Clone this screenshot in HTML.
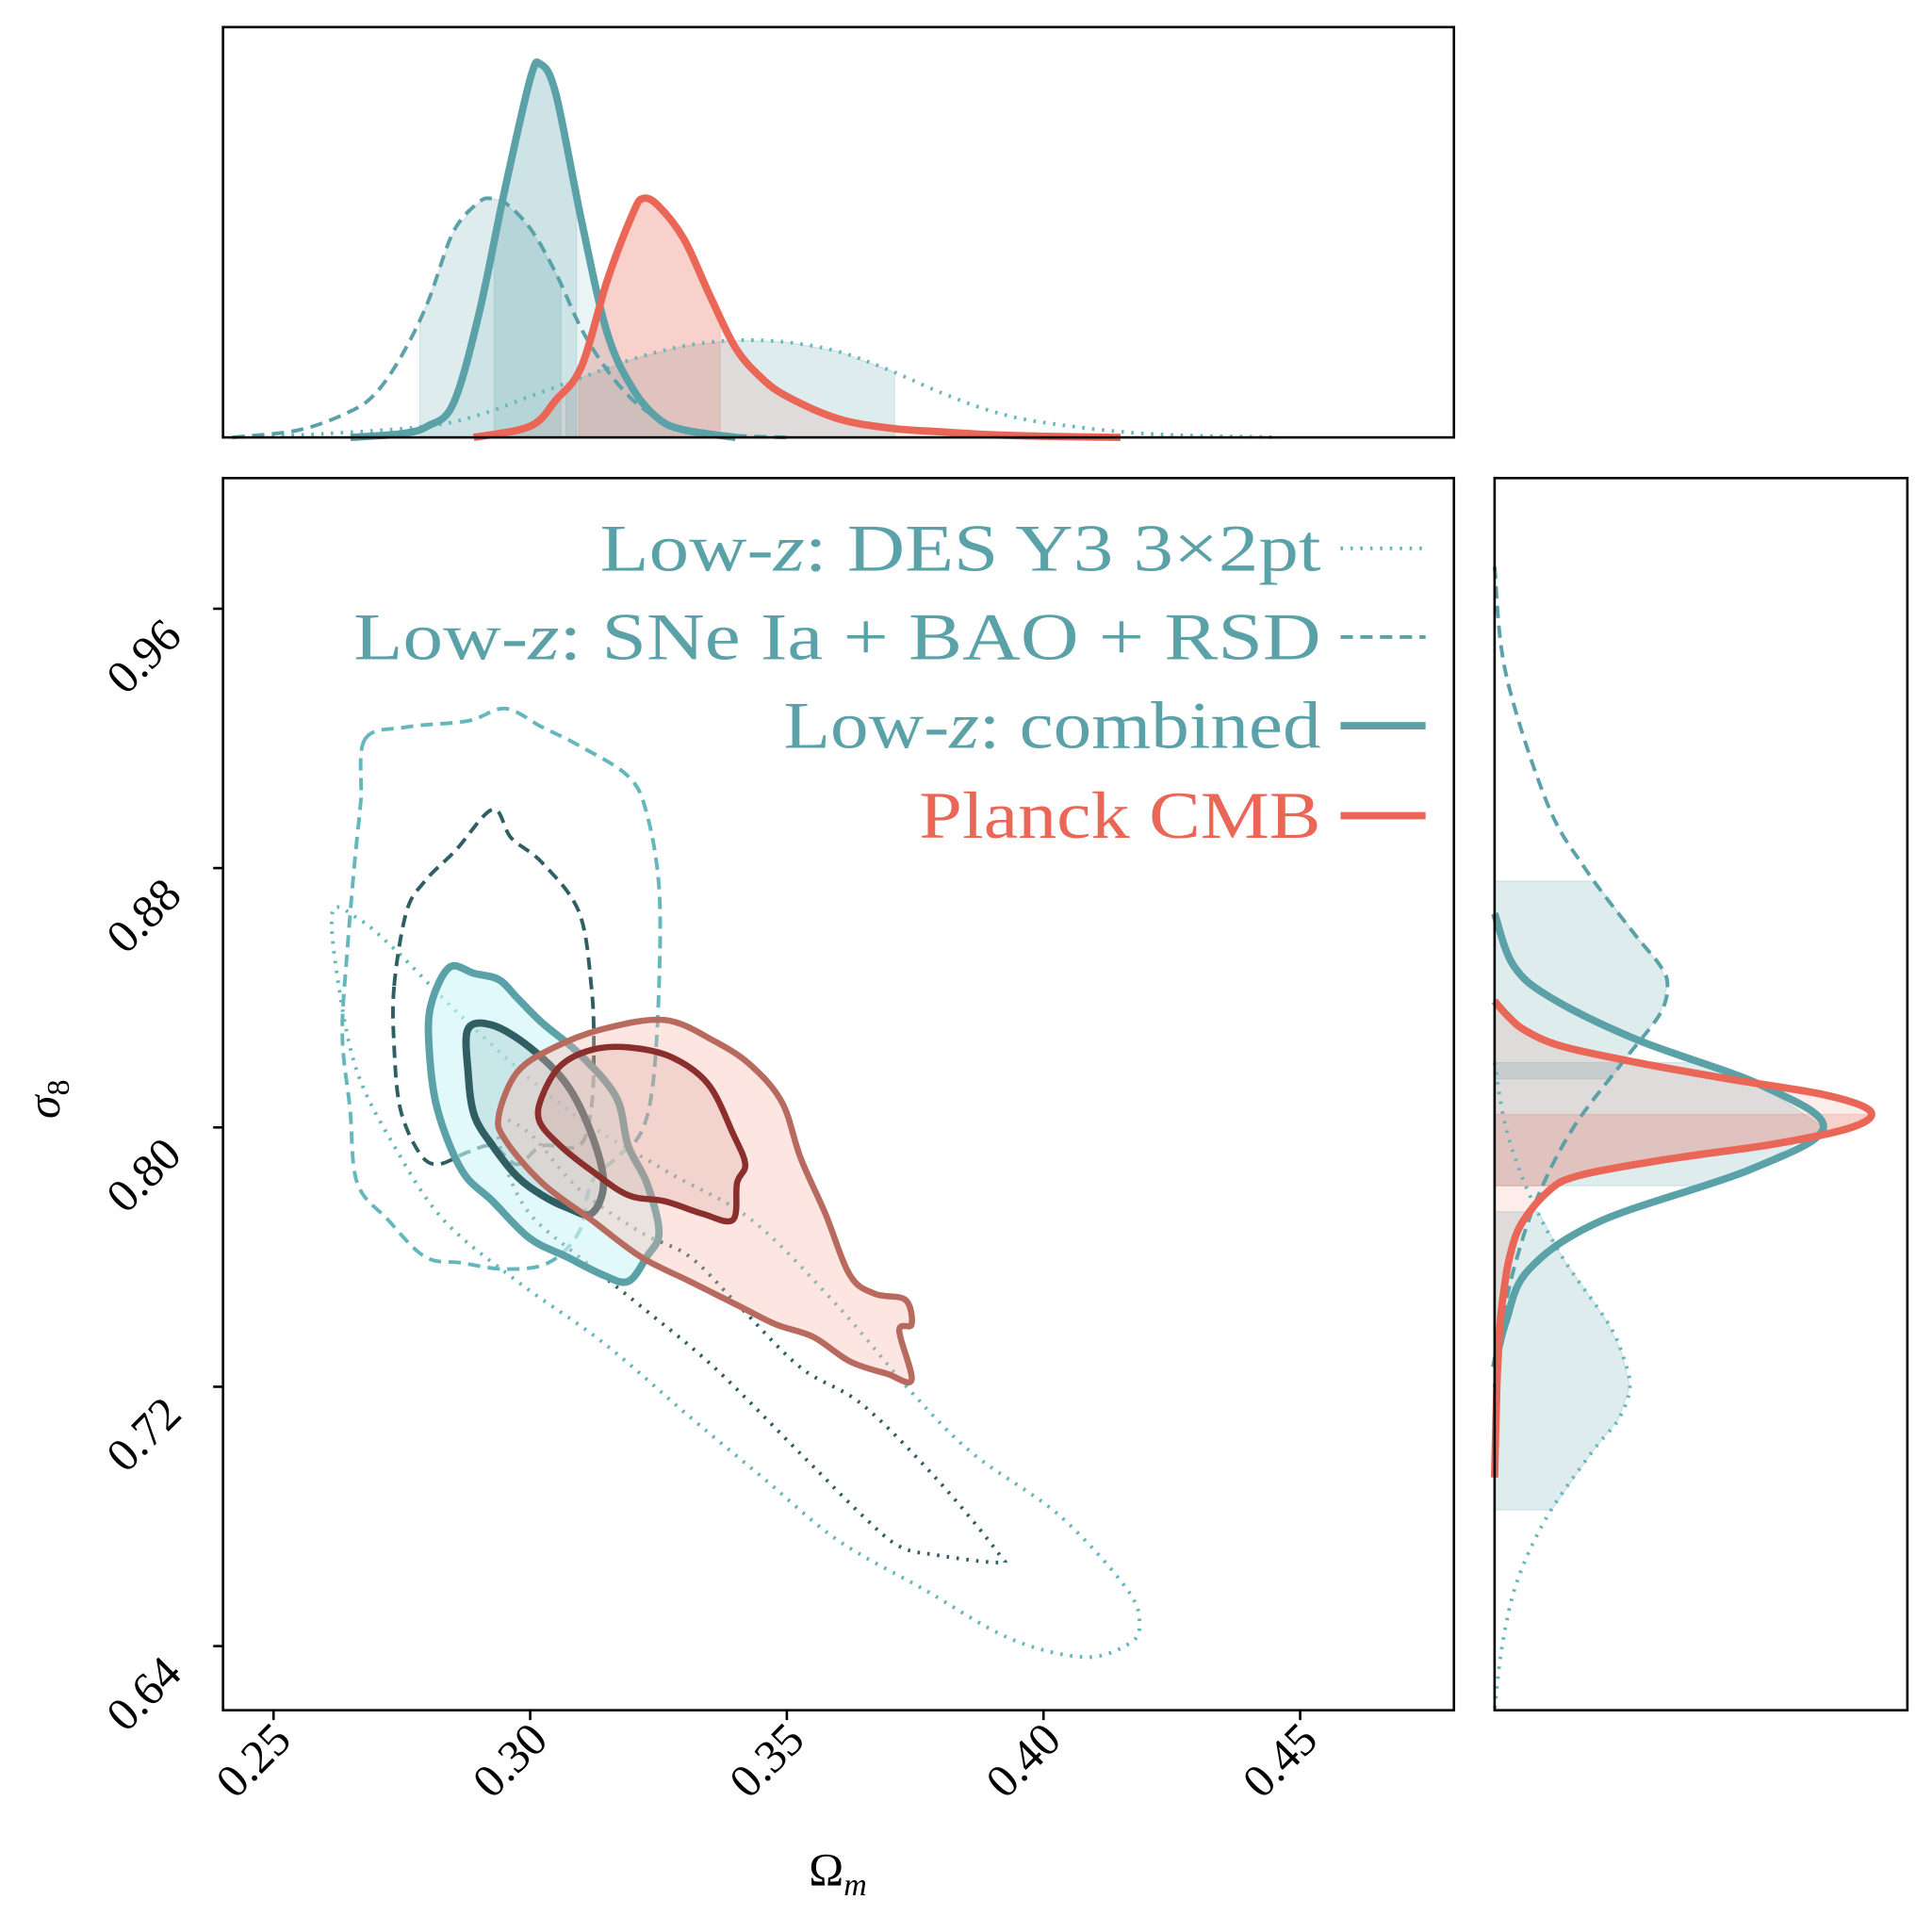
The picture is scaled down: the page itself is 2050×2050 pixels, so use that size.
<!DOCTYPE html>
<html><head><meta charset="utf-8"><style>
html,body{margin:0;padding:0;background:#fff}
svg{display:block}
text{font-family:"Liberation Serif",serif}
</style></head><body>
<svg id="c" width="2050" height="2050" viewBox="0 0 1568 1568" xmlns="http://www.w3.org/2000/svg"></svg>
<script>
// ---- data ----
const xTicks=[0.25,0.30,0.35,0.40,0.45];
const yTicks=[0.96,0.88,0.80,0.72,0.64];
const xTickLabels=["0.25","0.30","0.35","0.40","0.45"];
const yTickLabels=["0.96","0.88","0.80","0.72","0.64"];
// top marginal (Omega_m, relative density)
const omCombined=[[0.265,0],[0.275,0.01],[0.28,0.03],[0.285,0.09],[0.29,0.33],[0.295,0.66],[0.30,0.96],[0.302,1.0],[0.305,0.92],[0.31,0.58],[0.315,0.28],[0.32,0.13],[0.325,0.05],[0.33,0.02],[0.34,0]];
const omPlanck=[[0.289,0],[0.30,0.03],[0.305,0.10],[0.31,0.19],[0.315,0.42],[0.32,0.60],[0.322,0.64],[0.325,0.62],[0.33,0.53],[0.335,0.38],[0.34,0.24],[0.345,0.16],[0.35,0.11],[0.36,0.05],[0.37,0.025],[0.38,0.015],[0.39,0.007],[0.40,0.003],[0.415,0]];
const omSNe=[[0.242,0],[0.255,0.02],[0.265,0.07],[0.27,0.12],[0.275,0.22],[0.28,0.36],[0.285,0.55],[0.29,0.63],[0.2925,0.64],[0.295,0.63],[0.30,0.56],[0.305,0.44],[0.31,0.29],[0.315,0.18],[0.32,0.10],[0.325,0.05],[0.33,0.02],[0.34,0.005],[0.35,0]];
const omDES=[[0.242,0],[0.26,0.01],[0.28,0.03],[0.29,0.06],[0.30,0.11],[0.31,0.16],[0.32,0.21],[0.33,0.245],[0.34,0.26],[0.35,0.255],[0.36,0.23],[0.37,0.18],[0.38,0.12],[0.39,0.07],[0.40,0.04],[0.42,0.01],[0.446,0]];
const omIntervals={combined:[0.293,0.309],sne:[0.2785,0.306],des:[0.307,0.371],planck:[0.3095,0.337]};
// right marginal (sigma8, relative density)
const s8Planck=[[0.839,0],[0.835,0.03],[0.83,0.08],[0.825,0.18],[0.82,0.38],[0.815,0.62],[0.81,0.88],[0.805,1.0],[0.80,0.95],[0.795,0.75],[0.79,0.45],[0.785,0.22],[0.78,0.14],[0.77,0.07],[0.76,0.04],[0.75,0.025],[0.74,0.015],[0.73,0.01],[0.72,0.006],[0.692,0]];
const s8Combined=[[0.866,0],[0.85,0.05],[0.84,0.15],[0.827,0.38],[0.813,0.71],[0.80,0.875],[0.787,0.68],[0.771,0.28],[0.756,0.09],[0.74,0.03],[0.726,0]];
const s8SNe=[[0.973,0],[0.94,0.03],[0.90,0.14],[0.88,0.24],[0.86,0.37],[0.85,0.44],[0.844,0.46],[0.835,0.44],[0.82,0.34],[0.80,0.21],[0.78,0.12],[0.76,0.06],[0.74,0.02],[0.72,0]];
const s8DES=[[0.82,0],[0.80,0.03],[0.78,0.09],[0.76,0.18],[0.74,0.30],[0.73,0.34],[0.72,0.36],[0.71,0.33],[0.70,0.26],[0.68,0.14],[0.66,0.06],[0.64,0.02],[0.62,0]];
const s8Intervals={sne:[0.815,0.876],des:[0.682,0.774],combined:[0.782,0.82],planck:[0.782,0.804]};
// 2D contours (Omega_m, sigma8)
const desOuter=[[0.2615,0.8665],[0.2627,0.8437],[0.2663,0.8171],[0.2735,0.7943],[0.2831,0.7715],[0.2975,0.7525],[0.3143,0.7335],[0.3311,0.7107],[0.3455,0.6917],[0.3599,0.6727],[0.3767,0.6575],[0.3935,0.6423],[0.4079,0.6366],[0.4163,0.6404],[0.4187,0.6461],[0.4163,0.6575],[0.4031,0.6803],[0.3863,0.6993],[0.3743,0.7183],[0.3599,0.7449],[0.3431,0.7715],[0.3263,0.7867],[0.3071,0.8057],[0.2879,0.8323],[0.2735,0.8551],[0.2663,0.8646]];
const desInner=[[0.2939,0.8019],[0.2999,0.7981],[0.3095,0.7810],[0.3215,0.7677],[0.3311,0.7601],[0.3407,0.7449],[0.3527,0.7259],[0.3647,0.7145],[0.3791,0.6917],[0.3911,0.6689],[0.3911,0.6658],[0.3791,0.6681],[0.3719,0.6708],[0.3647,0.6803],[0.3527,0.6993],[0.3359,0.7259],[0.3215,0.7449],[0.3095,0.7601],[0.2999,0.7734],[0.2951,0.7886]];
const sneOuter=[[0.2678,0.9197],[0.2759,0.9235],[0.2879,0.9254],[0.2951,0.9292],[0.3023,0.9235],[0.3095,0.9178],[0.3191,0.9083],[0.3227,0.8969],[0.3251,0.8741],[0.3251,0.8437],[0.3239,0.8133],[0.3215,0.7981],[0.3167,0.7905],[0.3119,0.7829],[0.3095,0.7677],[0.3035,0.7582],[0.2951,0.7563],[0.2867,0.7582],[0.2795,0.7601],[0.2723,0.7715],[0.2663,0.7829],[0.2649,0.8057],[0.2634,0.8285],[0.2644,0.8551],[0.2658,0.8817],[0.2670,0.9007]];
const sneInner=[[0.2735,0.8437],[0.2759,0.8665],[0.2795,0.8760],[0.2855,0.8855],[0.2927,0.8981],[0.2963,0.8893],[0.3023,0.8817],[0.3095,0.8665],[0.3119,0.8437],[0.3124,0.8247],[0.3119,0.8057],[0.3095,0.7943],[0.3023,0.7943],[0.2975,0.7886],[0.2927,0.7943],[0.2879,0.7924],[0.2819,0.7886],[0.2783,0.7924],[0.2747,0.8057],[0.2735,0.8247]];
const combOuter=[[0.2807,0.8380],[0.2843,0.8494],[0.2891,0.8475],[0.2939,0.8456],[0.2975,0.8399],[0.3023,0.8323],[0.3095,0.8228],[0.3167,0.8095],[0.3191,0.7943],[0.3227,0.7829],[0.3251,0.7677],[0.3227,0.7601],[0.3191,0.7525],[0.3143,0.7544],[0.3071,0.7601],[0.2999,0.7658],[0.2927,0.7772],[0.2867,0.7867],[0.2819,0.8057],[0.2803,0.8247]];
const combInner=[[0.2879,0.8304],[0.2927,0.8315],[0.2999,0.8247],[0.3071,0.8133],[0.3119,0.7981],[0.3143,0.7829],[0.3119,0.7734],[0.3071,0.7753],[0.3023,0.7791],[0.2975,0.7848],[0.2927,0.7943],[0.2891,0.8038],[0.2879,0.8171]];
const planckOuter=[[0.2939,0.8038],[0.2975,0.8171],[0.3047,0.8247],[0.3143,0.8304],[0.3263,0.8331],[0.3359,0.8266],[0.3431,0.8190],[0.3491,0.8076],[0.3527,0.7905],[0.3575,0.7734],[0.3623,0.7544],[0.3671,0.7487],[0.3731,0.7468],[0.3743,0.7392],[0.3719,0.7373],[0.3743,0.7221],[0.3695,0.7240],[0.3623,0.7278],[0.3551,0.7354],[0.3479,0.7392],[0.3407,0.7449],[0.3311,0.7525],[0.3215,0.7601],[0.3119,0.7715],[0.3023,0.7829],[0.2951,0.7962]];
const planckInner=[[0.3023,0.8095],[0.3059,0.8190],[0.3119,0.8239],[0.3191,0.8247],[0.3275,0.8217],[0.3347,0.8133],[0.3395,0.7981],[0.3419,0.7886],[0.3403,0.7829],[0.3395,0.7715],[0.3335,0.7734],[0.3263,0.7772],[0.3191,0.7791],[0.3119,0.7867],[0.3059,0.7943],[0.3018,0.8019]];

// ---- layout ----
const MAIN={l:181,r:1180,t:388,b:1388}, TOP={t:22,b:355}, RIGHT={l:1213,r:1548};
const X=v=>222+(v-0.25)*4166;
const Y=v=>915-(v-0.80)*2631;
const TH=v=>TOP.b-v*303;
const RW=v=>RIGHT.l+v*305;
const TEAL="#5ba2a8", LTEAL="#63b7bd", DARK="#2f5f63", RED="#ea6656";
const NS="http://www.w3.org/2000/svg";
const svg=document.getElementById('c');
function mk(tag,attrs,parent){const e=document.createElementNS(NS,tag);for(const k in attrs)e.setAttribute(k,attrs[k]);(parent||svg).appendChild(e);return e;}
function interp(arr,v){for(let i=0;i<arr.length-1;i++){const a=arr[i],b=arr[i+1];const lo=Math.min(a[0],b[0]),hi=Math.max(a[0],b[0]);if(v>=lo&&v<=hi){const t=(v-a[0])/(b[0]-a[0]||1);return a[1]+t*(b[1]-a[1]);}}return 0;}
// Catmull-Rom smoothing to a path string
function smooth(P,closed){
  const n=P.length;let d='M'+P[0][0]+','+P[0][1];
  const g=i=>closed?P[(i+n)%n]:P[Math.max(0,Math.min(n-1,i))];
  const last=closed?n:n-1;
  for(let i=0;i<last;i++){
    const p0=g(i-1),p1=g(i),p2=g(i+1),p3=g(i+2);
    const c1=[p1[0]+(p2[0]-p0[0])/6,p1[1]+(p2[1]-p0[1])/6];
    const c2=[p2[0]-(p3[0]-p1[0])/6,p2[1]-(p3[1]-p1[1])/6];
    d+=' C'+c1[0]+','+c1[1]+' '+c2[0]+','+c2[1]+' '+p2[0]+','+p2[1];
  }
  return d+(closed?'Z':'');
}

const defs=mk('defs',{});
const cp1=mk('clipPath',{id:'cm'},defs);mk('rect',{x:MAIN.l,y:MAIN.t,width:MAIN.r-MAIN.l,height:MAIN.b-MAIN.t},cp1);

// ---- top marginal ----
const gTop=mk('g',{});


function topFill(arr,iv,color,name){
  let pts=[];const n=40;for(let i=0;i<=n;i++){const v=iv[0]+(iv[1]-iv[0])*i/n;pts.push(X(v)+','+TH(interp(arr,v)));}
  const p=mk('polygon',{points:X(iv[0])+','+TOP.b+' '+pts.join(' ')+' '+X(iv[1])+','+TOP.b,fill:color,'fill-opacity':0.2,stroke:color,'stroke-opacity':0.2},gTop);
  
  
}
function topLine(arr,color,w,dash,name){
  const p=mk('path',{d:smooth(arr.map(d=>[X(d[0]),TH(d[1])]),false),fill:'none',stroke:color,'stroke-width':w,'stroke-dasharray':dash,'stroke-linejoin':'round'},gTop);
  
  
}
topFill(omSNe,omIntervals.sne,TEAL,'sne-omega-band');
topFill(omCombined,omIntervals.combined,TEAL,'combined-omega-band');
topFill(omDES,omIntervals.des,TEAL,'des-omega-band');
topFill(omPlanck,omIntervals.planck,RED,'planck-omega-band');
const pf=mk('path',{d:smooth(omPlanck.map(d=>[X(d[0]),TH(d[1])]),false)+'Z',fill:RED,'fill-opacity':0.12},gTop);


const cf=mk('path',{d:smooth(omCombined.map(d=>[X(d[0]),TH(d[1])]),false)+'Z',fill:TEAL,'fill-opacity':0.12},gTop);


topLine(omDES,LTEAL,3,'2 6','des-omega-line');
topLine(omSNe,TEAL,3,'10 6','sne-omega-line');
topLine(omCombined,TEAL,6,'','combined-omega-line');
topLine(omPlanck,RED,6,'','planck-omega-line');
const topFrame=mk('rect',{x:MAIN.l,y:TOP.t,width:MAIN.r-MAIN.l,height:TOP.b-TOP.t,fill:'none',stroke:'#000','stroke-width':2});



// ---- right marginal ----
const gR=mk('g',{});


function rFill(arr,iv,color,name){
  let pts=[];const n=40;for(let i=0;i<=n;i++){const v=iv[0]+(iv[1]-iv[0])*i/n;pts.push(RW(interp(arr,v))+','+Y(v));}
  const p=mk('polygon',{points:RIGHT.l+','+Y(iv[0])+' '+pts.join(' ')+' '+RIGHT.l+','+Y(iv[1]),fill:color,'fill-opacity':0.2,stroke:color,'stroke-opacity':0.2},gR);
  
  
}
function rLine(arr,color,w,dash,name){
  const p=mk('path',{d:smooth(arr.map(d=>[RW(d[1]),Y(d[0])]),false),fill:'none',stroke:color,'stroke-width':w,'stroke-dasharray':dash,'stroke-linejoin':'round'},gR);
  
  
}
rFill(s8SNe,s8Intervals.sne,TEAL,'sne-sigma8-band');
rFill(s8DES,s8Intervals.des,TEAL,'des-sigma8-band');
rFill(s8Combined,s8Intervals.combined,TEAL,'combined-sigma8-band');
rFill(s8Planck,s8Intervals.planck,RED,'planck-sigma8-band');
const rpf=mk('path',{d:smooth(s8Planck.map(d=>[RW(d[1]),Y(d[0])]),false)+'Z',fill:RED,'fill-opacity':0.12},gR);


rLine(s8DES,LTEAL,3,'2 6','des-sigma8-line');
rLine(s8SNe,TEAL,3,'10 6','sne-sigma8-line');
rLine(s8Combined,TEAL,6,'','combined-sigma8-line');
rLine(s8Planck,RED,6,'','planck-sigma8-line');
const rFrame=mk('rect',{x:RIGHT.l,y:MAIN.t,width:RIGHT.r-RIGHT.l,height:MAIN.b-MAIN.t,fill:'none',stroke:'#000','stroke-width':2});



// ---- main 2D ----
const gM=mk('g',{'clip-path':'url(#cm)'});


function contour(arr,stroke,w,dash,fill,fop,name){
  const p=mk('path',{d:smooth(arr.map(d=>[X(d[0]),Y(d[1])]),true),fill:fill||'none','fill-opacity':fop||0,stroke:stroke,'stroke-width':w,'stroke-dasharray':dash,'stroke-linejoin':'round'},gM);
  
  
}
contour(desOuter,LTEAL,3,'2 6',null,0,'des-contour-95');
contour(desInner,DARK,3,'2 6',null,0,'des-contour-68');
contour(sneOuter,LTEAL,3,'10 6',null,0,'sne-contour-95');
contour(sneInner,DARK,3,'10 6',null,0,'sne-contour-68');
contour(combOuter,TEAL,6,'','#cff5f8',0.6,'combined-contour-95');
contour(combInner,DARK,6,'','#7fb2b5',0.25,'combined-contour-68');
contour(planckOuter,'#b86a5f',5,'','#f9b2a6',0.33,'planck-contour-95');
contour(planckInner,'#8a2f2b',5,'','#c77f76',0.18,'planck-contour-68');
const mFrame=mk('rect',{x:MAIN.l,y:MAIN.t,width:MAIN.r-MAIN.l,height:MAIN.b-MAIN.t,fill:'none',stroke:'#000','stroke-width':2});



// ticks
xTicks.forEach((v,i)=>{
  const x=X(v);
  const t=mk('line',{x1:x,x2:x,y1:MAIN.b,y2:MAIN.b+8,stroke:'#000','stroke-width':2});
  
  
  const lb=mk('text',{x:0,y:0,'font-size':38,'text-anchor':'end',transform:`translate(${x+16},${MAIN.b+26}) rotate(-45)`});
  lb.textContent=xTickLabels[i];
  
  
});
yTicks.forEach((v,i)=>{
  const y=Y(v);
  const t=mk('line',{x1:MAIN.l-8,x2:MAIN.l,y1:y,y2:y,stroke:'#000','stroke-width':2});
  
  
  const lb=mk('text',{x:0,y:0,'font-size':38,'text-anchor':'end',transform:`translate(${MAIN.l-32},${y+24}) rotate(-45)`});
  lb.textContent=yTickLabels[i];
  
  
});
const xl=mk('text',{x:680,y:1530,'font-size':38,'text-anchor':'middle'});
xl.innerHTML='Ω<tspan font-size="26" font-style="italic" dy="8">m</tspan>';


const yl=mk('text',{x:0,y:0,'font-size':38,'text-anchor':'middle',transform:'translate(48,892) rotate(-90)'});
yl.innerHTML='<tspan font-style="italic">σ</tspan><tspan font-size="26" dy="8">8</tspan>';



// legend
const legRows=[
 {y:463,html:'Low-<tspan font-style="italic">z</tspan>: DES Y3 3×2pt',len:585,c:TEAL,lc:LTEAL,w:3,d:'2 6',n:'legend-entry-des'},
 {y:535,html:'Low-<tspan font-style="italic">z</tspan>: SNe Ia + BAO + RSD',len:785,c:TEAL,lc:TEAL,w:3,d:'10 6',n:'legend-entry-sne'},
 {y:607,html:'Low-<tspan font-style="italic">z</tspan>: combined',len:436,c:TEAL,lc:TEAL,w:6,d:'',n:'legend-entry-combined'},
 {y:680,html:'Planck CMB',len:326,c:RED,lc:RED,w:6,d:'',n:'legend-entry-planck'}];
legRows.forEach(r=>{
  const g=mk('g',{});
  
  
  const t=mk('text',{x:1072-r.len,y:r.y,'font-size':54,fill:r.c,textLength:r.len,lengthAdjust:'spacingAndGlyphs'},g);
  t.innerHTML=r.html;
  mk('line',{x1:1088,x2:1157,y1:r.y-18,y2:r.y-18,stroke:r.lc,'stroke-width':r.w,'stroke-dasharray':r.d},g);
});
</script>
</body></html>
